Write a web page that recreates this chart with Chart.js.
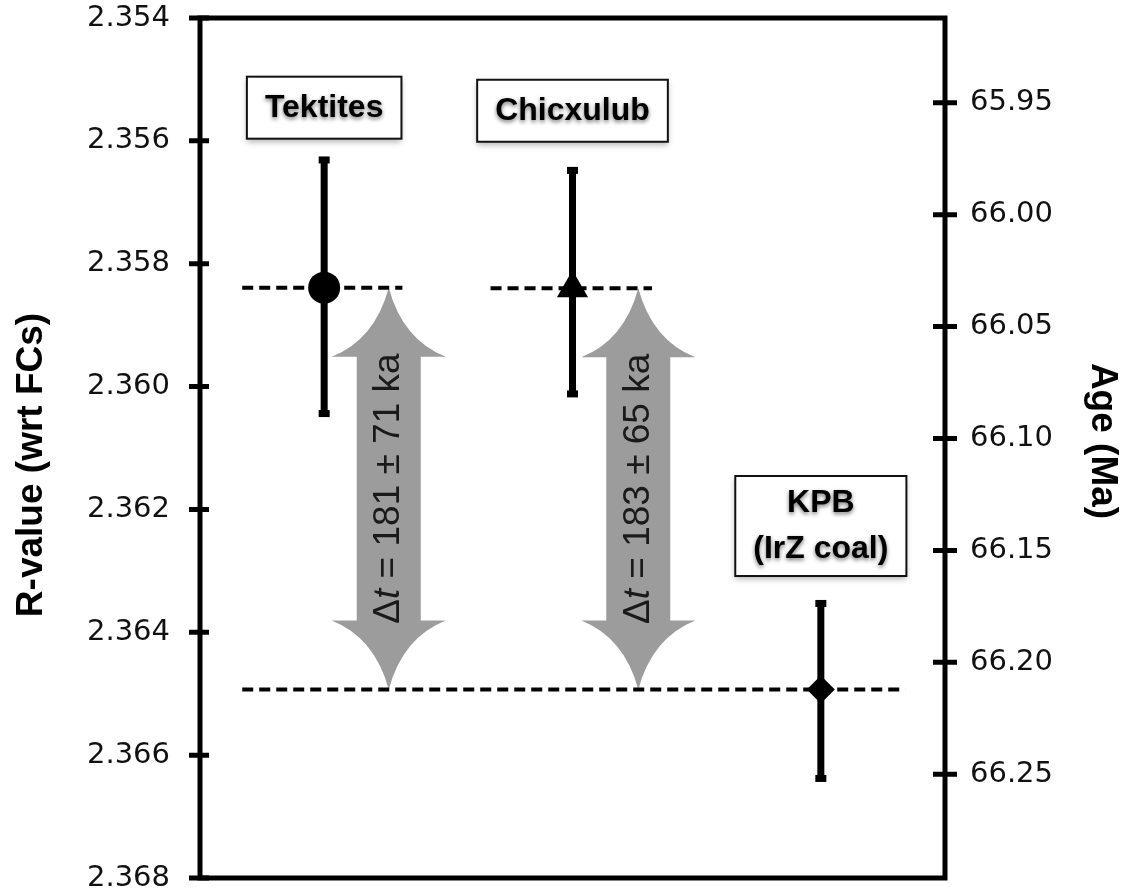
<!DOCTYPE html>
<html>
<head>
<meta charset="utf-8">
<script src="https://cdn.jsdelivr.net/npm/chart.js@4.4.1/dist/chart.umd.min.js"></script>
<style>
  html, body { margin: 0; padding: 0; background: #fff; }
  #wrap { width: 1127px; height: 896px; }
</style>
</head>
<body>
<div id="wrap"><canvas id="chart" width="1127" height="896"></canvas></div>
<script>
"use strict";

// samples, left to right
const samples = ['Tektites', 'Chicxulub', 'KPB'];
const sampleLabels = [['Tektites'], ['Chicxulub'], ['KPB', '(IrZ coal)']];
const sampleX = [1, 3, 5];
const rValues = [2.35839, 2.3584, 2.36493];
const rErrTop = [2.35627, 2.35644, 2.36349];
const rErrBottom = [2.36048, 2.36016, 2.36642];
const deltaT = ['181 ± 71 ka', '183 ± 65 ka'];

// tick labels
const rTicks = [2.354, 2.356, 2.358, 2.360, 2.362, 2.364, 2.366, 2.368];
const ageTicks = [65.95, 66.00, 66.05, 66.10, 66.15, 66.20, 66.25];

// layout bits (not data)
const arrowX = [1.52, 3.53];
const labelR = [2.35546, 2.35551, 2.36227];
const refLines = [
  { from: 0.34, to: 1.63, sample: 0 },
  { from: 2.34, to: 3.64, sample: 1 },
  { from: 0.34, to: 5.68, sample: 2 }
];

function drawArrow(ctx, cx, top, bottom) {
  const hw = 57, sw = 32, hh = 69, c = 14, cy = 52;
  ctx.beginPath();
  ctx.moveTo(cx, top);
  ctx.quadraticCurveTo(cx + c, top + cy, cx + hw, top + hh);
  ctx.lineTo(cx + sw, top + hh);
  ctx.lineTo(cx + sw, bottom - hh);
  ctx.lineTo(cx + hw, bottom - hh);
  ctx.quadraticCurveTo(cx + c, bottom - cy, cx, bottom);
  ctx.quadraticCurveTo(cx - c, bottom - cy, cx - hw, bottom - hh);
  ctx.lineTo(cx - sw, bottom - hh);
  ctx.lineTo(cx - sw, top + hh);
  ctx.lineTo(cx - hw, top + hh);
  ctx.quadraticCurveTo(cx - c, top + cy, cx, top);
  ctx.closePath();
  ctx.fill();
}

function drawDeltaText(ctx, cx, cy, value) {
  const normal = '37px "Liberation Sans", Arial, sans-serif';
  const italic = 'italic 37px "Liberation Sans", Arial, sans-serif';
  const parts = [['Δ', normal], ['t', italic], [' = ' + value, normal]];
  let total = 0;
  parts.forEach(p => { ctx.font = p[1]; total += ctx.measureText(p[0]).width; });
  ctx.save();
  ctx.translate(cx, cy);
  ctx.rotate(-Math.PI / 2);
  ctx.fillStyle = '#1a1a1a';
  ctx.textBaseline = 'middle';
  ctx.textAlign = 'left';
  let x = -total / 2;
  parts.forEach(p => {
    ctx.font = p[1];
    ctx.fillText(p[0], x, 0);
    x += ctx.measureText(p[0]).width;
  });
  ctx.restore();
}

const overlay = {
  id: 'overlay',
  beforeDatasetsDraw(chart) {
    const ctx = chart.ctx;
    const xs = chart.scales.x, ys = chart.scales.y;

    // grey double arrows between impact ages and the KPB
    arrowX.forEach((ax, i) => {
      const cx = xs.getPixelForValue(ax);
      const top = ys.getPixelForValue(rValues[i]);
      const bottom = ys.getPixelForValue(rValues[2]);
      ctx.save();
      ctx.fillStyle = '#9c9c9c';
      drawArrow(ctx, cx, top, bottom);
      ctx.restore();
      drawDeltaText(ctx, cx, (top + bottom) / 2, deltaT[i]);
    });

    // error bars
    ctx.save();
    ctx.strokeStyle = '#000';
    ctx.fillStyle = '#000';
    ctx.lineWidth = 7;
    sampleX.forEach((sx, i) => {
      const x = xs.getPixelForValue(sx);
      const y1 = ys.getPixelForValue(rErrTop[i]);
      const y2 = ys.getPixelForValue(rErrBottom[i]);
      ctx.beginPath();
      ctx.moveTo(x, y1);
      ctx.lineTo(x, y2);
      ctx.stroke();
      ctx.fillRect(x - 5.5, y1 - 1, 11, 7);
      ctx.fillRect(x - 5.5, y2 - 6, 11, 7);
    });
    ctx.restore();
  },
  afterDraw(chart) {
    const ctx = chart.ctx;
    const area = chart.chartArea;
    const xs = chart.scales.x, ys = chart.scales.y, ys2 = chart.scales.y2;

    // frame and tick marks
    ctx.save();
    ctx.strokeStyle = '#000';
    ctx.lineWidth = 5;
    ctx.strokeRect(area.left, area.top, area.right - area.left, area.bottom - area.top);
    ctx.beginPath();
    rTicks.forEach(v => {
      const y = ys.getPixelForValue(v);
      ctx.moveTo(area.left - 11, y);
      ctx.lineTo(area.left + 9, y);
    });
    ageTicks.forEach(v => {
      const y = ys2.getPixelForValue(v);
      ctx.moveTo(area.right - 12, y);
      ctx.lineTo(area.right + 12, y);
    });
    ctx.stroke();
    ctx.restore();

    // sample label boxes
    sampleLabels.forEach((lines, i) => {
      const cx = xs.getPixelForValue(sampleX[i]);
      const cy = ys.getPixelForValue(labelR[i]);
      ctx.save();
      ctx.font = 'bold 32px "Liberation Sans", Arial, sans-serif';
      const w = Math.max(...lines.map(l => ctx.measureText(l).width)) + 36;
      const h = lines.length * 38 + 24;
      ctx.shadowColor = 'rgba(0,0,0,0.3)';
      ctx.shadowBlur = 6;
      ctx.shadowOffsetY = 3;
      ctx.fillStyle = '#fff';
      ctx.fillRect(cx - w / 2, cy - h / 2, w, h);
      ctx.shadowColor = 'transparent';
      ctx.lineWidth = 2;
      ctx.strokeStyle = '#111';
      ctx.strokeRect(cx - w / 2, cy - h / 2, w, h);
      ctx.shadowColor = 'rgba(0,0,0,0.55)';
      ctx.shadowBlur = 4;
      ctx.shadowOffsetY = 2;
      ctx.fillStyle = '#000';
      ctx.textAlign = 'center';
      ctx.textBaseline = 'middle';
      lines.forEach((l, k) => {
        ctx.fillText(l, cx, cy + (k - (lines.length - 1) / 2) * 46);
      });
      ctx.restore();
    });

    // axis titles
    ctx.save();
    ctx.font = 'bold 37px "Liberation Sans", Arial, sans-serif';
    ctx.fillStyle = '#000';
    ctx.textAlign = 'center';
    ctx.textBaseline = 'middle';
    const midY = (area.top + area.bottom) / 2;
    ctx.save();
    ctx.translate(32, midY + 17);
    ctx.rotate(-Math.PI / 2);
    ctx.fillText('R-value (wrt FCs)', 0, 0);
    ctx.restore();
    ctx.save();
    ctx.translate(1102, midY - 7);
    ctx.rotate(Math.PI / 2);
    ctx.fillText('Age (Ma)', 0, 0);
    ctx.restore();
    ctx.restore();
  }
};

const datasets = refLines.map(r => ({
  label: 'ref ' + samples[r.sample],
  data: [{ x: r.from, y: rValues[r.sample] }, { x: r.to, y: rValues[r.sample] }],
  showLine: true,
  borderColor: '#000',
  borderWidth: 4,
  borderDash: [11, 6],
  pointRadius: 0,
  order: 2
}));

datasets.push({
  label: 'samples',
  data: sampleX.map((x, i) => ({ x: x, y: rValues[i] })),
  pointStyle: ['circle', 'triangle', 'rectRot'],
  pointRadius: [16, 18, 14],
  pointBorderWidth: 0,
  backgroundColor: '#000',
  borderColor: '#000',
  order: 0
});

const tickFont = { family: '"DejaVu Sans", Verdana, sans-serif', size: 29, lineHeight: 1 };

new Chart(document.getElementById('chart'), {
  type: 'scatter',
  data: { datasets: datasets },
  options: {
    responsive: false,
    animation: false,
    // left/right padding puts the outer edge of the tick labels in place
    layout: { padding: { top: 18, bottom: 16, left: 87, right: 74 } },
    plugins: { legend: { display: false }, tooltip: { enabled: false } },
    scales: {
      x: { type: 'linear', min: 0, max: 6, display: false },
      y: {
        type: 'linear',
        position: 'left',
        reverse: true,
        min: 2.354,
        max: 2.368,
        afterBuildTicks: s => { s.ticks = rTicks.map(v => ({ value: v })); },
        afterFit: s => { s.width = 113; },
        grid: { display: false },
        border: { display: false },
        ticks: { font: tickFont, color: '#111', padding: 0, crossAlign: 'far', callback: v => v.toFixed(3) }
      },
      y2: {
        type: 'linear',
        position: 'right',
        reverse: true,
        min: 65.9121,
        max: 66.2964,
        afterBuildTicks: s => { s.ticks = ageTicks.map(v => ({ value: v })); },
        afterFit: s => { s.width = 108; },
        grid: { display: false },
        border: { display: false },
        ticks: { font: tickFont, color: '#111', padding: 0, crossAlign: 'far', callback: v => v.toFixed(2) }
      }
    }
  },
  plugins: [overlay]
});
</script>
</body>
</html>
